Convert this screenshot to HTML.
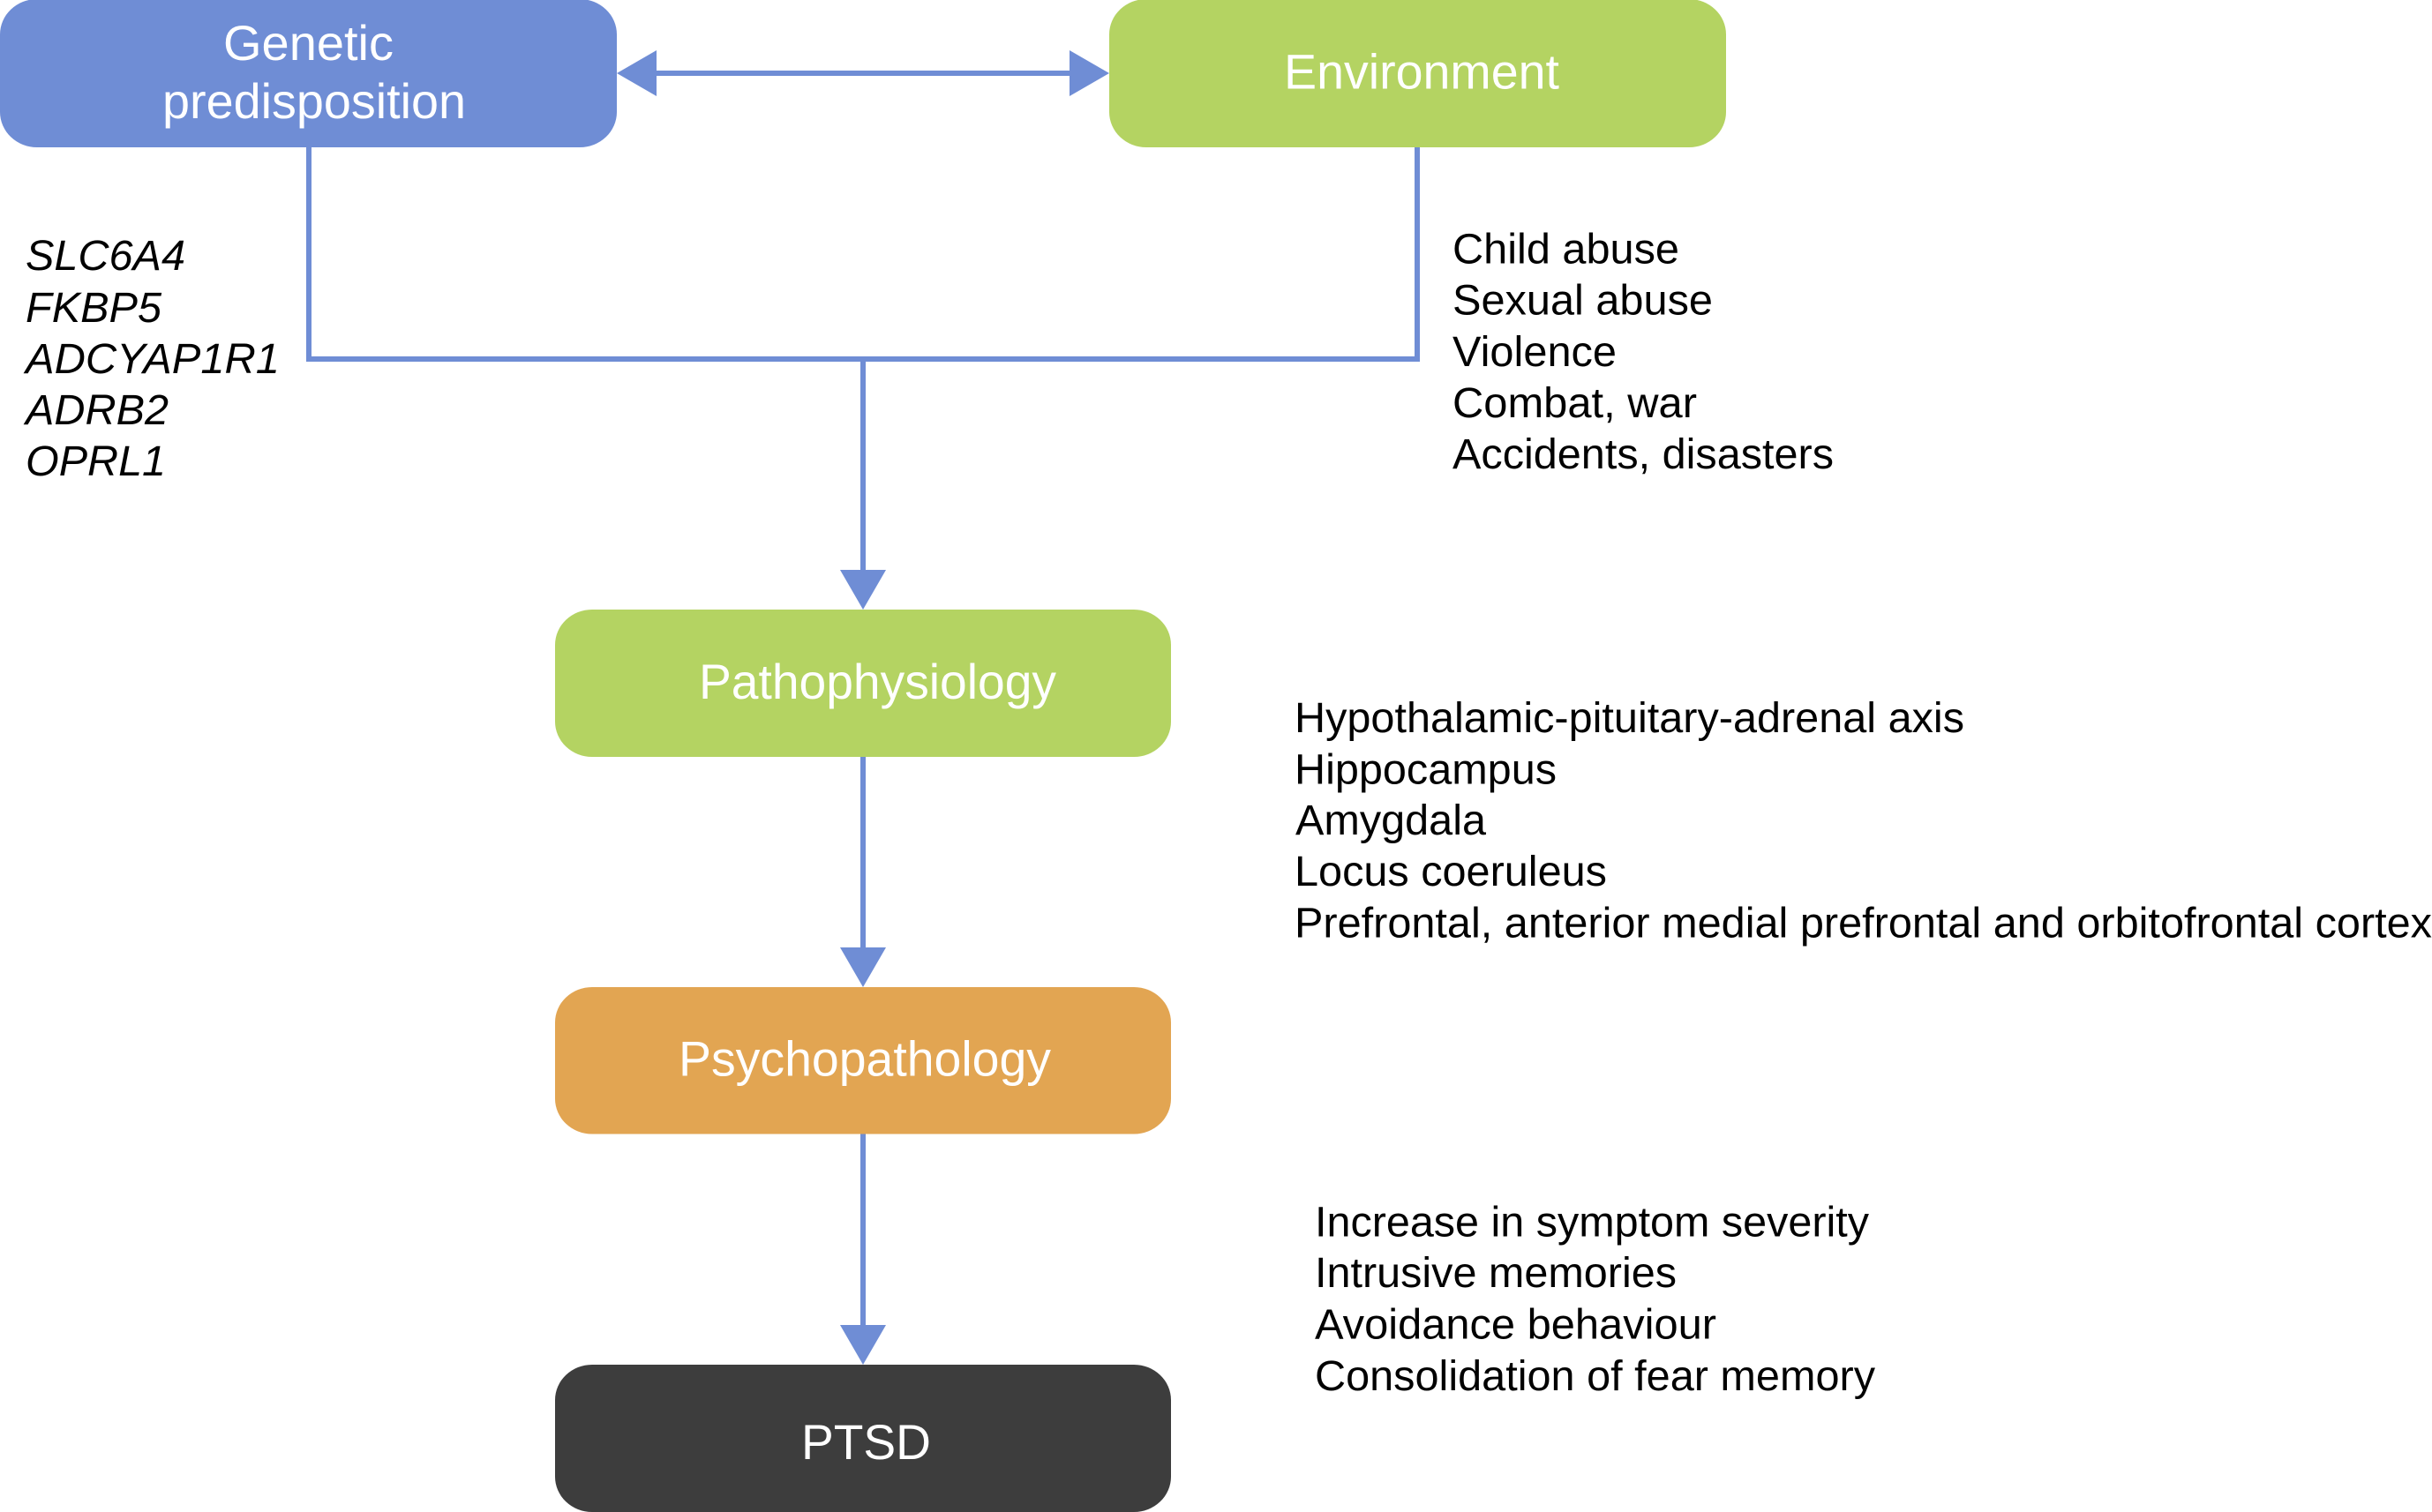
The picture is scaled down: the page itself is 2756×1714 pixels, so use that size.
<!DOCTYPE html>
<html lang="en">
<head>
<meta charset="utf-8">
<title>PTSD diagram</title>
<style>
html,body{margin:0;padding:0;background:#fff;width:2756px;height:1714px;overflow:hidden}
svg{display:block}
text{font-family:"Liberation Sans",Arial,sans-serif}
.n{font-size:48.5px;fill:#000}
.i{font-size:48.5px;fill:#000;font-style:italic}
.w{font-size:55.5px;fill:#fff}
</style>
</head>
<body>
<svg xmlns="http://www.w3.org/2000/svg" width="2756" height="1714" viewBox="0 0 2756 1714">
<rect width="2756" height="1714" fill="#fff"/>

<!-- connectors -->
<g fill="none" stroke="#6f8dd5" stroke-width="6">
<path d="M740 83H1216"/>
<path d="M350 167V407H1606V167"/>
<path d="M978 407V650"/>
<path d="M978 857V1078"/>
<path d="M978 1285V1506"/>
</g>
<g fill="#6f8dd5">
<polygon points="699,83 744,57 744,109"/>
<polygon points="1257,83 1212,57 1212,109"/>
<polygon points="978,691 952,646 1004,646"/>
<polygon points="978,1119 952,1074 1004,1074"/>
<polygon points="978,1547 952,1502 1004,1502"/>
</g>

<!-- nodes -->
<rect x="0" y="-1" width="699" height="168" rx="42" ry="40" fill="#6f8dd5"/>
<rect x="1257" y="-1" width="699" height="168" rx="42" ry="40" fill="#b4d362"/>
<rect x="629" y="691" width="698" height="167" rx="42" ry="40" fill="#b4d362"/>
<rect x="629" y="1119" width="698" height="166.5" rx="42" ry="40" fill="#e2a552"/>
<rect x="629" y="1547" width="698" height="167" rx="42" ry="40" fill="#3d3d3d"/>

<!-- node labels -->
<text class="w" x="253" y="68" textLength="193" lengthAdjust="spacingAndGlyphs">Genetic</text>
<text class="w" x="184" y="134" textLength="344" lengthAdjust="spacingAndGlyphs">predisposition</text>
<text class="w" x="1455" y="100.5" textLength="312" lengthAdjust="spacingAndGlyphs">Environment</text>
<text class="w" x="792" y="792" textLength="405" lengthAdjust="spacingAndGlyphs">Pathophysiology</text>
<text class="w" x="769" y="1219.5" textLength="422" lengthAdjust="spacingAndGlyphs">Psychopathology</text>
<text class="w" x="908" y="1654" textLength="147" lengthAdjust="spacingAndGlyphs">PTSD</text>

<!-- genes -->
<text class="i" x="29" y="306" textLength="181" lengthAdjust="spacingAndGlyphs">SLC6A4</text>
<text class="i" x="29" y="365" textLength="154" lengthAdjust="spacingAndGlyphs">FKBP5</text>
<text class="i" x="29" y="423" textLength="288" lengthAdjust="spacingAndGlyphs">ADCYAP1R1</text>
<text class="i" x="29" y="481" textLength="162" lengthAdjust="spacingAndGlyphs">ADRB2</text>
<text class="i" x="29" y="539" textLength="159" lengthAdjust="spacingAndGlyphs">OPRL1</text>

<!-- environment list -->
<text class="n" x="1646" y="298.5" textLength="257" lengthAdjust="spacingAndGlyphs">Child abuse</text>
<text class="n" x="1646" y="356.5" textLength="295" lengthAdjust="spacingAndGlyphs">Sexual abuse</text>
<text class="n" x="1646" y="415" textLength="186" lengthAdjust="spacingAndGlyphs">Violence</text>
<text class="n" x="1646" y="473" textLength="277" lengthAdjust="spacingAndGlyphs">Combat, war</text>
<text class="n" x="1646" y="531" textLength="432" lengthAdjust="spacingAndGlyphs">Accidents, disasters</text>

<!-- pathophysiology list -->
<text class="n" x="1467" y="830" textLength="759" lengthAdjust="spacingAndGlyphs">Hypothalamic-pituitary-adrenal axis</text>
<text class="n" x="1467" y="888.5" textLength="297" lengthAdjust="spacingAndGlyphs">Hippocampus</text>
<text class="n" x="1468" y="946" textLength="216" lengthAdjust="spacingAndGlyphs">Amygdala</text>
<text class="n" x="1467" y="1004" textLength="354" lengthAdjust="spacingAndGlyphs">Locus coeruleus</text>
<text class="n" x="1467" y="1062.5" textLength="1289" lengthAdjust="spacingAndGlyphs">Prefrontal, anterior medial prefrontal and orbitofrontal cortex</text>

<!-- psychopathology list -->
<text class="n" x="1490" y="1401.5" textLength="628" lengthAdjust="spacingAndGlyphs">Increase in symptom severity</text>
<text class="n" x="1490" y="1459" textLength="410" lengthAdjust="spacingAndGlyphs">Intrusive memories</text>
<text class="n" x="1490" y="1517.5" textLength="455" lengthAdjust="spacingAndGlyphs">Avoidance behaviour</text>
<text class="n" x="1490" y="1576" textLength="635" lengthAdjust="spacingAndGlyphs">Consolidation of fear memory</text>
</svg>
</body>
</html>
